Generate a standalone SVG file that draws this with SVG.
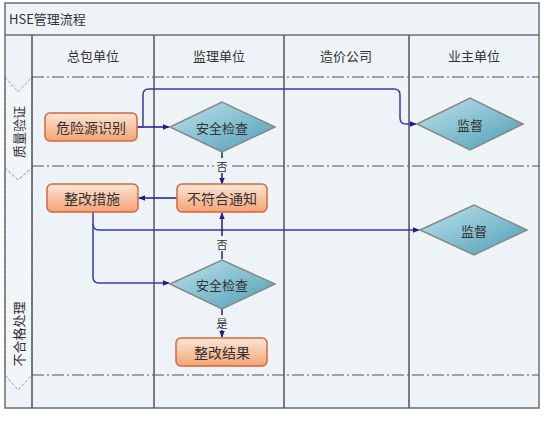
<svg xmlns="http://www.w3.org/2000/svg" width="544" height="422" viewBox="0 0 544 422">
<defs>
<linearGradient id="gRect" x1="0" y1="0" x2="0" y2="1">
<stop offset="0" stop-color="#fde6d6"/>
<stop offset="1" stop-color="#f4a374"/>
</linearGradient>
<linearGradient id="gDia" x1="0" y1="0" x2="1" y2="1">
<stop offset="0" stop-color="#bfe3ec"/>
<stop offset="1" stop-color="#4d9db5"/>
</linearGradient>
<marker id="arr" viewBox="0 0 10 10" refX="9" refY="5" markerWidth="7" markerHeight="7" orient="auto" markerUnits="userSpaceOnUse">
<path d="M0,1 L10,5 L0,9 z" fill="#1c1c8c"/>
</marker>
</defs>
<style>
text{font-family:"Noto Sans CJK SC","Liberation Serif",serif;fill:#333;}
.hdr{font-size:13px;text-anchor:middle;}
.lbl{font-size:14px;text-anchor:middle;dominant-baseline:central;}
.dlbl{font-size:13px;text-anchor:middle;dominant-baseline:central;}
.small{font-size:11px;text-anchor:middle;dominant-baseline:central;}
.box{fill:url(#gRect);stroke:#d2683f;stroke-width:1.5;}
.dia{fill:url(#gDia);stroke:#888;stroke-width:1.5;}
.frame{fill:none;stroke:#6e6e6e;stroke-width:1.5;}
.dash{stroke:#555;stroke-width:1.2;stroke-dasharray:12 3 2 3;fill:none;}
.phase{fill:#f1f6f9;stroke:#999;stroke-width:1;stroke-dasharray:3 2;}
.conn{fill:none;stroke:#1c1c8c;stroke-width:1.5;marker-end:url(#arr);}
.conn2{fill:none;stroke:#3a3ab0;stroke-width:1.5;marker-end:url(#arr);}
</style>
<rect x="0" y="0" width="544" height="422" fill="#ffffff"/>
<rect x="5" y="3" width="534" height="405" fill="#edf3f7"/>
<g id="phases">
<polygon class="phase" points="5,77 18,92 32,77 32,168 18,180 5,168"/>
<polygon class="phase" points="5,168 18,180 32,168 32,375 18,390 5,375"/>
<text font-size="13" text-anchor="middle" dominant-baseline="central" transform="translate(18,132) rotate(-90)" fill="#555">质量验证</text>
<text font-size="13" text-anchor="middle" dominant-baseline="central" transform="translate(18,334) rotate(-90)" fill="#555">不合格处理</text>
</g>
<g id="lanes">
<rect class="frame" x="5" y="3" width="534" height="405"/>
<line x1="5" y1="35" x2="539" y2="35" stroke="#6e6e6e" stroke-width="1.5"/>
<line x1="32" y1="35" x2="32" y2="408" stroke="#555" stroke-width="1.5"/>
<line x1="154" y1="35" x2="154" y2="408" stroke="#555" stroke-width="1.5"/>
<line x1="284" y1="35" x2="284" y2="408" stroke="#555" stroke-width="1.5"/>
<line x1="409" y1="35" x2="409" y2="408" stroke="#555" stroke-width="1.5"/>
<line class="dash" x1="32" y1="77" x2="539" y2="77"/>
<line class="dash" x1="32" y1="166" x2="539" y2="166"/>
<line class="dash" x1="32" y1="375" x2="539" y2="375"/>
<text x="9" y="24" font-size="13">HSE管理流程</text>
<text class="hdr" x="93" y="61">总包单位</text>
<text class="hdr" x="219" y="61">监理单位</text>
<text class="hdr" x="346" y="61">造价公司</text>
<text class="hdr" x="474" y="61">业主单位</text>
</g>
<g id="connectors">
<path class="conn" d="M137,127 H169"/>
<path class="conn2" d="M137,127 H143 V95 Q143,89 149,89 H394 Q400,89 400,95 V118 Q400,124 406,124 H416"/>
<path class="conn" d="M222,152 V184"/>
<path class="conn" d="M177,198 H139"/>
<path class="conn2" d="M93,212 V224 Q93,230 99,230 H419"/>
<path class="conn2" d="M93,224 V277 Q93,283 99,283 H169"/>
<path class="conn" d="M222,259 V213"/>
<path class="conn" d="M222,309 V337"/>
<rect x="214" y="158" width="16" height="15" fill="#edf3f7"/>
<text class="small" x="222" y="166">否</text>
<rect x="214" y="236" width="16" height="15" fill="#edf3f7"/>
<text class="small" x="222" y="244">否</text>
<rect x="214" y="315" width="16" height="15" fill="#edf3f7"/>
<text class="small" x="222" y="323">是</text>
</g>
<g id="n1"><rect class="box" x="45" y="113" width="92" height="28" rx="5"/><text class="lbl" x="91" y="127">危险源识别</text></g>
<g id="n2"><polygon class="dia" points="170,127 222,102 275,127 222,152"/><text class="dlbl" x="222" y="127">安全检查</text></g>
<g id="n3"><polygon class="dia" points="417,124 470,98 523,124 470,150"/><text class="dlbl" x="470" y="124">监督</text></g>
<g id="n4"><rect class="box" x="177" y="184" width="90" height="28" rx="5"/><text class="lbl" x="222" y="198">不符合通知</text></g>
<g id="n5"><rect class="box" x="47" y="184" width="91" height="28" rx="5"/><text class="lbl" x="92" y="198">整改措施</text></g>
<g id="n6"><polygon class="dia" points="420,230 474,205 527,230 474,255"/><text class="dlbl" x="474" y="230">监督</text></g>
<g id="n7"><polygon class="dia" points="170,284 222,260 275,284 222,309"/><text class="dlbl" x="222" y="284">安全检查</text></g>
<g id="n8"><rect class="box" x="176" y="338" width="91" height="28" rx="5"/><text class="lbl" x="222" y="352">整改结果</text></g>
</svg>
